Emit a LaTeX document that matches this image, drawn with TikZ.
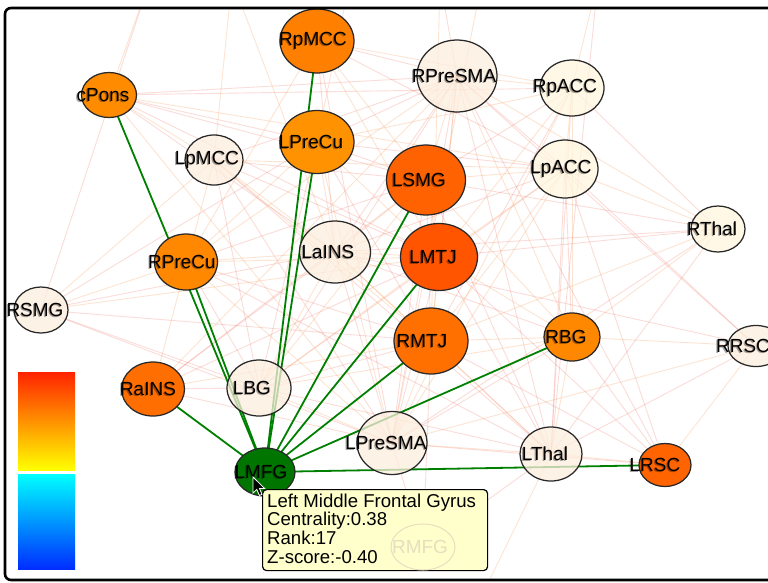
\documentclass[tikz,border=0pt]{standalone}
\usepackage{fontspec}
\setmainfont{Liberation Sans}
\usetikzlibrary{shapes.geometric}
\pgfdeclarelayer{bg}
\pgfsetlayers{bg,main}
\definecolor{ndline}{RGB}{40,40,40}
\definecolor{gedge}{RGB}{0,128,0}
\definecolor{epink}{RGB}{238,110,95}
\definecolor{epeach}{RGB}{250,160,95}
\definecolor{cream}{RGB}{253,238,222}
\definecolor{creamy}{RGB}{255,246,222}
\definecolor{tipfill}{RGB}{255,255,204}
\definecolor{oA}{RGB}{255,128,0}
\definecolor{oB}{RGB}{255,140,0}
\definecolor{oC}{RGB}{255,146,0}
\definecolor{oD}{RGB}{255,136,0}
\definecolor{oE}{RGB}{255,98,0}
\definecolor{oF}{RGB}{255,85,0}
\definecolor{oG}{RGB}{255,110,0}
\definecolor{oH}{RGB}{255,112,0}
\definecolor{oI}{RGB}{255,100,0}
\definecolor{ngreen}{RGB}{0,118,0}
\definecolor{cbr}{RGB}{255,35,0}
\definecolor{cbo}{RGB}{255,150,0}
\definecolor{cby}{RGB}{255,255,0}
\definecolor{cbc}{RGB}{0,255,255}
\definecolor{cbm}{RGB}{0,160,255}
\definecolor{cbb}{RGB}{0,45,255}
\definecolor{ghost}{RGB}{232,222,190}
\begin{document}
\begin{tikzpicture}[x=1pt,y=-1pt,
  bub/.style={ellipse, draw=ndline, line width=1.25pt, inner sep=0pt},
  lbl/.style={font=\fontsize{19}{19}\selectfont, text=black, inner sep=0pt},
  lblshadow/.style={font=\fontsize{19}{19}\selectfont, text=black, text opacity=0.35, inner sep=0pt},
  tiptext/.style={font=\fontsize{18.6}{18.6}\selectfont, text=black, inner sep=0pt, anchor=base west},
  fedgeA/.style={draw=epink, line width=0.9pt, opacity=0.24},
  fedgeB/.style={draw=epeach, line width=0.9pt, opacity=0.28},
  gline/.style={draw=gedge, line width=1.8pt}]
\useasboundingbox (0,0) rectangle (768,582);

% orange / green (opaque) nodes
\foreach \n/\x/\y/\w/\h/\c in {
  RpMCC/317/41/74/64/oA, cPons/109/95/55/45/oB, LPreCu/317/142/74/63/oC,
  RPreCu/186/262/63/56/oD, LSMG/426/180/79/70/oE, LMTJ/439/257/77/67/oF,
  RaINS/153/389/63/54/oG, RMTJ/431/341/74/66/oH, RBG/572/337/56/48/oD,
  LRSC/665/465/52/43/oI, LMFG/265/472/60/48/ngreen}{
  \node[bub, fill=\c, minimum width=\w pt, minimum height=\h pt] (\n) at (\x,\y) {};
}
% light (semi transparent) nodes
\foreach \n/\x/\y/\w/\h/\c in {
  LpMCC/214/160/58/50/cream, LaINS/335/252/71/62/cream, RPreSMA/457/76/80/72/cream,
  RpACC/572/88/64/56/creamy, LpACC/565/169/66/58/creamy, RThal/718/229/54/46/creamy,
  RSMG/41/310/54/46/cream, LBG/259/388/64/56/cream, LPreSMA/392/443/70/63/cream,
  RRSC/756/346/56/41/cream, LThal/551/454/62/54/cream}{
  \node[bub, fill=\c, fill opacity=0.75, minimum width=\w pt, minimum height=\h pt] (\n) at (\x,\y) {};
}
\coordinate (RMFGc) at (423,547);
\coordinate (t1) at (150,-20);
\coordinate (t2) at (232,-20);
\coordinate (t3) at (440,-20);
\coordinate (t4) at (482,-20);
\coordinate (t5) at (598,-20);
\coordinate (t6) at (350,-20);
\coordinate (b1) at (470,620);

% labels
\foreach \n/\t/\dx in {
  RpMCC/RpMCC/-4, cPons/cPons/-6, LpMCC/LpMCC/-7, LPreCu/LPreCu/-6, LaINS/LaINS/-7,
  RPreCu/RPreCu/-4, RPreSMA/RPreSMA/-3, RpACC/RpACC/-7, LSMG/LSMG/-7, LpACC/LpACC/-4,
  RThal/RThal/-6, LMTJ/LMTJ/-6, RSMG/RSMG/-6, RaINS/RaINS/-5, LBG/LBG/-7,
  LMFG/LMFG/-4, LPreSMA/LPreSMA/-6, RMTJ/RMTJ/-9, RBG/RBG/-6, RRSC/RRSC/-13,
  LThal/LThal/-6, LRSC/LRSC/-10}{
  \node[lblshadow] at ([xshift=\dx pt-1.2pt, yshift=-0.6pt]\n.center) {\t};
  \node[lbl] at ([xshift=\dx pt]\n.center) {\t};
}

\begin{pgfonlayer}{bg}
\fill[white] (0,0) rectangle (768,582);
\begin{scope}
\clip (6,9) rectangle (768,579);
\foreach \a/\b in {
  cPons/LPreCu, cPons/LSMG, cPons/RPreSMA, cPons/LaINS, cPons/LMTJ, cPons/RpACC,
  RSMG/LaINS, RSMG/LPreSMA, RSMG/LBG, RSMG/LPreCu, RSMG/RMTJ,
  LpMCC/RPreSMA, LpMCC/LSMG, LpMCC/LMTJ, LpMCC/LPreSMA, LpMCC/LBG, LpMCC/LThal,
  RpMCC/RPreSMA, RpMCC/LaINS, RpMCC/LpACC, RpMCC/LPreSMA,
  LPreCu/RPreSMA, LPreCu/LSMG, LPreCu/LpACC, LPreCu/RMTJ, LPreCu/LBG,
  LaINS/RPreSMA, LaINS/LpACC, LaINS/LPreSMA, LaINS/RBG, LaINS/RThal, LaINS/RRSC, LaINS/RaINS,
  RPreCu/LSMG, RPreCu/RMTJ, RPreCu/LThal, RPreCu/LBG,
  RPreSMA/LpACC, RPreSMA/LMTJ, RPreSMA/LPreSMA, RPreSMA/LThal, RPreSMA/LRSC, RPreSMA/RRSC, RPreSMA/LBG,
  RpACC/LSMG, RpACC/RMTJ, RpACC/LThal, RpACC/RThal,
  LSMG/RMTJ, LSMG/LPreSMA, LSMG/LThal, LSMG/RThal, LSMG/RaINS,
  LpACC/RBG, LpACC/LThal, LpACC/LRSC, LpACC/RRSC, LpACC/LBG,
  RThal/LMTJ, RThal/LPreSMA, RThal/LThal,
  LMTJ/LPreSMA, LMTJ/LThal, LMTJ/LRSC, LMTJ/RaINS,
  RaINS/LBG, RaINS/LPreSMA, LBG/RMTJ, LBG/LThal,
  LPreSMA/RBG, LPreSMA/LRSC, LPreSMA/RMFGc, RMTJ/LThal, RMTJ/LRSC, RMTJ/RMFGc,
  RBG/LRSC, RRSC/LThal, LThal/RMFGc, t3/RPreSMA, t5/LThal, t1/RSMG}{
  \draw[fedgeA] (\a.center) -- (\b.center);
}
\foreach \a/\b in {
  cPons/LpMCC, cPons/LpACC, cPons/LPreSMA, RSMG/LpMCC, RSMG/LMTJ, RSMG/RPreCu,
  LpMCC/LaINS, LpMCC/RMTJ, LpMCC/LpACC, LpMCC/RaINS,
  RpMCC/LSMG, RpMCC/RpACC, RpMCC/LMTJ, RpMCC/RPreCu,
  LPreCu/LaINS, LPreCu/RpACC, LPreCu/LMTJ, LPreCu/LPreSMA,
  LaINS/LSMG, LaINS/LMTJ, LaINS/RMTJ, LaINS/LThal, LaINS/LBG,
  RPreCu/LaINS, RPreCu/LMTJ, RPreCu/LPreSMA, RPreCu/LPreCu, RPreCu/RPreSMA,
  RPreSMA/RpACC, RPreSMA/LSMG, RPreSMA/RMTJ, RPreSMA/RBG, RPreSMA/RThal, RPreSMA/RaINS,
  RpACC/LpACC, RpACC/LMTJ, RpACC/RBG, RpACC/LPreSMA,
  LSMG/LpACC, LSMG/LMTJ, LSMG/RBG, LSMG/LBG,
  LpACC/LMTJ, LpACC/RMTJ, LpACC/RThal, LpACC/LPreSMA,
  RThal/RMTJ, RThal/RBG, LMTJ/RMTJ, LMTJ/RBG, LMTJ/LBG,
  RaINS/RMTJ, LBG/LPreSMA, LBG/RBG, LPreSMA/RMTJ, LPreSMA/LThal,
  RMTJ/RBG, RBG/LThal, RBG/RRSC, RRSC/LPreSMA, RRSC/LRSC, LThal/LRSC,
  t1/cPons, t2/LpMCC, t2/LaINS, t4/LPreSMA, t5/RpACC, t6/LPreCu, t3/RMTJ, b1/LThal}{
  \draw[fedgeB] (\a.center) -- (\b.center);
}
\end{scope}
% green connectors of LMFG
\foreach \b in {cPons, RPreCu, RpMCC, LPreCu, LSMG, LMTJ, RMTJ, RBG, LRSC, RaINS}{
  \draw[gline] (LMFG.center) -- (\b.center);
}
\end{pgfonlayer}

% colour bar
\shade[top color=cbr, middle color=cbo, bottom color=cby] (18,372) rectangle (75,470);
\shade[top color=cbc, middle color=cbm, bottom color=cbb] (18,474) rectangle (75,569);

% tooltip
\node[draw=black, line width=1.2pt, fill=tipfill, rounded corners=4pt, inner sep=0pt,
      minimum width=225pt, minimum height=81pt, anchor=north west] (tip) at (262,489) {};
\node[ellipse, draw=ghost, line width=1pt, minimum width=64pt, minimum height=46pt, inner sep=0pt] (RMFG) at (RMFGc) {};
\node[lbl, text=ghost] at ([xshift=-3pt]RMFG.center) {RMFG};
\node[tiptext] (tipa) at (267,507) {Left Middle Frontal Gyrus};
\node[tiptext] (tipb) at (267,525.7) {Centrality:0.38};
\node[tiptext] (tipc) at (267,544.4) {Rank:17};
\node[tiptext] (tipd) at (267,563) {Z-score:-0.40};

% mouse cursor
\filldraw[fill=black, draw=white, line width=0.8pt, line join=miter]
  (253,477) -- ++(0,16) -- ++(3.8,-3.6) -- ++(2.6,6) -- ++(2.6,-1.1) -- ++(-2.5,-5.8) -- ++(5.2,0) -- cycle;

% frame
\draw[line width=2.6pt, rounded corners=6pt] (5,8) rectangle (800,580);
\end{tikzpicture}
\end{document}
